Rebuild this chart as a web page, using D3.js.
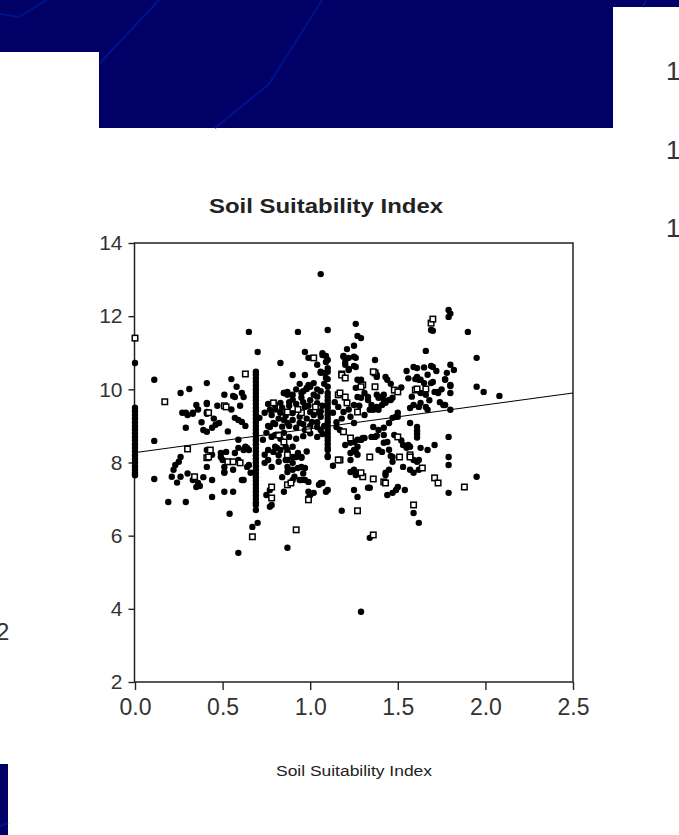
<!DOCTYPE html>
<html>
<head>
<meta charset="utf-8">
<script src="https://cdn.jsdelivr.net/npm/d3@7"></script>
<style>
  body { margin: 0; background: #fff; }
  svg { display: block; }
</style>
</head>
<body>
<div class="container"></div>
<script>
// ticks
const xTicks = [0, 0.5, 1, 1.5, 2, 2.5];
const yTicks = [2, 4, 6, 8, 10, 12, 14];

// fitted line, read at both ends of the x range
const fitX = [0, 2.5];
const fitY = [8.27, 9.9];

// filled markers [soil index, value]
const filledPts = [
  [0.11,10.26],[0.26,9.9],[0.31,10.01],[0.41,10.17],[0.65,11.57],[0.70,11.02],[0.93,11.57],[0.83,10.72],[0.55,10.28],[0.58,10.07],
  [0.97,11.02],[0.99,10.86],[0.90,10.39],[0.97,10.39],[0.51,9.85],[0.57,9.79],[0.62,9.79],[0.41,9.6],[0.35,9.57],[0.29,9.36],[0.33,9.33],[0.41,9.33],
  [1.06,13.15],[1.10,11.62],[1.26,11.79],[1.27,11.46],[1.29,11.4],[1.25,11.19],[1.21,11.1],[1.26,10.86],[1.25,10.64],[1.19,10.91],[1.20,10.75],[1.22,10.56],
  [1.04,10.67],[1.07,10.99],[1.09,10.91],[1.10,10.8],[1.06,10.45],[1.08,10.45],[1.10,10.58],[1.10,10.28],
  [1.37,10.8],[1.38,10.34],[1.43,10.34],[1.44,10.26],[1.27,10.26],[1.29,10.26],[1.46,10.15],[1.55,10.5],[1.59,10.61],[1.61,10.58],[1.60,10.28],[1.63,10.26],
  [1.66,11.05],[1.69,11.62],[1.70,11.6],[1.69,10.64],[1.70,10.61],[1.70,10.2],
  [1.79,12.17],[1.80,12.07],[1.79,11.98],[1.80,10.67],[1.82,10.53],[1.77,10.26],[1.80,10.09],[1.90,11.57],[1.95,10.86],[1.95,10.07],[1.99,9.93],[2.08,9.82],
  [0.56,9.82],[0.61,9.9],[0.85,9.9],[0.87,9.93],[0.94,10.15],[0.98,10.01],[1.0,10.07],
  [0.11,8.59],[0.27,9.36],[0.30,9.3],[0.33,9.36],[0.29,8.95],[0.41,9.63],[0.41,9.38],[0.39,8.89],[0.41,8.84],[0.44,8.95],[0.46,9.03],[0.48,9.08],
  [0.57,9.22],[0.59,9.16],[0.61,9.11],[0.59,8.62],[0.59,8.4],[0.64,8.4],[0.41,8.34],[0.44,8.21],[0.49,8.15],[0.50,8.07],[0.64,7.88],[0.63,8.43],[0.65,8.34],
  [0.26,8.15],[0.25,8.02],[0.23,7.93],[0.22,7.8],[0.21,7.61],[0.26,7.61],[0.11,7.55],[0.19,6.92],[0.29,6.92],[0.33,7.52],[0.36,7.44],[0.37,7.36],[0.35,7.33],
  [0.44,7.52],[0.44,7.06],[0.51,7.2],[0.56,7.2],[0.51,7.74],[0.56,7.8],[0.61,7.52],[0.54,6.6],[0.59,5.53],[0.67,6.24],[0.70,6.35],
  [0.75,7.11],[0.77,7.25],[0.78,6.84],[0.77,6.79],[0.74,8.21],[0.76,8.07],[0.79,8.29],[0.81,8.4],[0.73,8.62],[0.75,8.81],[0.77,8.97],[0.79,9.08],
  [0.71,9.22],[0.74,9.36],[0.77,9.44],[0.80,9.57],[0.83,9.63],[0.85,9.9],[0.87,9.85],[0.83,9.36],[0.85,9.16],[0.87,9.08],[0.80,8.75],[0.85,8.81],
  [0.86,8.43],[0.87,8.34],[0.90,8.43],[0.90,8.15],[0.93,8.26],[0.95,8.15],[0.86,8.07],[0.87,7.88],[0.87,7.74],[0.90,7.8],[0.93,7.85],[0.95,7.88],[0.97,7.85],
  [0.85,7.2],[0.90,7.52],[0.94,7.52],[0.97,7.52],[0.99,7.2],[1.0,7.11],[1.02,7.17],[0.99,7.03],[1.05,7.39],[1.07,7.44],[1.10,7.25],[0.87,5.67],[1.13,7.91],[1.10,8.15],
  [1.13,9.36],[1.16,9.52],[1.19,9.38],[1.15,8.97],[1.17,8.89],[1.25,8.56],[1.27,8.62],[1.23,8.26],[1.25,8.34],[1.27,8.43],[1.29,8.62],[1.30,8.67],
  [1.25,7.8],[1.27,7.72],[1.29,7.66],[1.18,6.68],[1.27,7.06],[1.25,7.25],[1.29,3.92],[1.33,7.31],[1.34,5.94],[1.39,8.34],[1.41,8.29],[1.37,8.7],[1.42,8.54],[1.44,8.56],
  [1.36,8.97],[1.39,8.89],[1.42,8.95],[1.45,9.08],[1.47,9.22],[1.43,7.66],[1.45,7.8],[1.44,7.11],[1.47,7.17],[1.49,7.25],[1.50,7.33],[1.54,7.25],
  [1.47,8.15],[1.47,8.02],[1.53,7.88],[1.53,8.48],[1.55,8.4],[1.57,8.43],[1.59,8.07],[1.61,8.02],[1.57,7.8],[1.59,7.72],[1.62,7.8],
  [1.61,8.97],[1.61,8.87],[1.61,8.78],[1.61,8.68],[1.59,6.62],[1.62,6.35],[1.63,8.4],[1.67,8.34],[1.71,8.48],[1.79,8.7],[1.79,8.15],[1.79,7.93],[1.79,7.17],[1.95,7.61],
  [1.57,9.49],[1.59,9.57],[1.63,9.63],[1.66,9.52],[1.67,9.44],[1.65,10.17],[1.73,9.9],[1.73,9.93],[1.77,9.57],[1.80,10.12],[1.80,9.9],[1.80,9.44],[1.57,9.08],
  [1.50,9.25],[1.50,9.36],[1.46,9.71],[1.47,9.77],[1.41,9.57],[1.42,9.71],[1.36,9.44],[1.38,9.52],[1.31,9.9],[1.33,9.79],[1.38,9.85],[1.40,9.79],[1.25,9.57],
  [1.23,9.25],[1.25,9.08],[0.98,10.04],[0.99,10.12],[1.02,10.17],[0.95,9.77],[0.97,9.52],[1.0,9.38],[1.05,9.36],[1.06,9.25],[1.01,9.11],[1.04,8.97],[1.06,8.89],
  [0.94,9.08],[0.97,8.89],[0.90,9.16],[0.83,9.38],[0.90,9.85],
  [1.19,10.89],[1.22,10.86],[1.25,10.89],[1.20,10.67],[1.22,10.53],[1.26,10.61],[1.38,10.39],[1.61,10.34],[1.62,10.26],[1.69,10.17],[1.77,10.28],[1.63,9.9],
  [1.66,9.85],[1.71,9.93],[1.07,10.94],[1.09,10.75],[1.06,10.48],[1.10,10.48],[1.09,10.31],[1.10,10.07],[1.26,10.04],[1.29,10.2],[1.27,9.79],[1.29,9.77],
  [1.33,9.71],[1.35,9.57],[1.39,9.77],[1.42,9.85],[1.43,9.63],[1.45,9.71],[1.49,9.25],[1.39,9.44],[1.34,9.44],[1.62,9.52],[1.76,9.57],
  [0.41,7.88],[0.51,7.88],[0.51,7.72],[0.49,8.26],[0.52,8.29],[0.57,8.26],[0.59,8.07],[0.62,8.34],[0.63,8.4],[0.62,7.52],[0.65,7.93],[0.66,7.72],
  [0.91,7.61],[0.95,7.52],[0.99,7.47],[0.76,8.34],[0.80,8.43],[0.83,8.34],[0.74,7.99],[0.78,7.88],[0.82,8.02],[0.87,8.07],[0.90,7.99],[0.92,8.15],[0.95,8.13],
  [1.62,8.07],[1.46,8.18],[1.43,7.72],[1.34,7.31],[1.23,7.74],[1.26,7.66],[1.23,8.07],[1.10,8.18],[1.06,7.44],[1.09,7.2],[1.23,8.54],[1.29,8.62],[1.31,8.67],
  [1.35,8.7],[1.38,8.73],[1.20,8.48],[1.26,8.29],[1.27,8.21],[1.42,8.75],[1.56,8.48],
  [0.76,9.6],[0.8,9.45],[0.84,9.5],[0.88,9.55],[0.92,9.6],[0.96,9.65],[1.0,9.7],[1.04,9.62],[1.07,9.55],[0.78,9.3],[0.82,9.2],[0.86,9.28],[0.9,9.35],
  [0.94,9.25],[0.98,9.2],[1.02,9.3],[1.06,9.4],[0.76,9.0],[0.8,9.05],[0.84,8.98],[0.88,9.0],[0.92,8.95],[0.96,9.05],[1.0,9.0],[1.04,9.1],[1.08,9.0],
  [0.78,8.7],[0.83,8.65],[0.88,8.7],[0.92,8.65],[0.96,8.72],[1.0,8.8],[1.04,8.7],[1.07,8.78],[0.9,9.72],[0.95,9.9],[1.02,9.85],[1.06,9.95],[1.04,9.8],
  [0.36,9.45],[0.45,9.2],[0.38,9.1],[0.47,9.55],[0.55,9.45],[0.63,9.0],[0.60,9.55],[0.53,8.85],
  [0.92,10.0],[0.96,9.95],[1.04,10.0],[1.08,10.15],[0.88,9.65],[0.99,9.55],
  [1.14,9.65],[1.18,9.2],[1.22,9.45],[1.28,9.55],[1.31,9.3],[1.15,9.1],
  [1.52,10.05],[1.56,10.3],[1.67,10.4],[1.72,10.5],[1.75,10.0],[1.58,9.8],[1.68,9.7],[1.74,9.65],[1.65,10.6],[1.78,10.45],
  [1.45,8.35],[1.52,8.6],[1.48,8.75],[0.84,7.6],[0.96,7.7],[0.82,8.2],[0.98,8.3],[0.24,7.45],[0.3,7.7],[0.39,7.6]
];

// open square markers
const openPts = [
  [0,11.4],[1.02,10.86],[0.51,9.55],[0.63,10.42],[1.18,10.42],[1.37,10.45],[1.37,10.07],[1.30,10.12],[1.48,9.98],[1.50,9.93],[1.69,11.81],[1.70,11.92],
  [1.66,10.01],[0.17,9.66],[0.30,8.37],[0.42,9.36],[0.52,9.52],[0.41,8.13],[0.53,8.02],[0.56,8.02],[0.60,7.99],[0.34,7.61],[0.67,5.97],[0.78,7.33],
  [0.78,7.03],[0.79,9.63],[0.82,8.75],[0.85,8.56],[0.87,7.39],[0.92,6.16],[1.17,8.07],[1.19,8.84],[1.23,8.67],[1.30,7.61],[1.27,6.68],[1.36,7.55],
  [1.34,8.15],[1.36,6.02],[1.42,7.47],[1.50,8.7],[1.51,8.15],[1.57,8.21],[1.64,7.85],[1.59,6.84],[1.71,7.58],[1.73,7.44],[1.88,7.33],[1.60,9.98],
  [1.29,10.07],[1.27,9.38],[1.16,9.85],[1.21,9.63],[1.03,9.52],[0.95,9.36],[0.87,9.38],[1.36,10.48],[1.18,10.39],[1.20,10.31],[1.17,9.9],[1.20,9.79],
  [1.61,10.01],[0.42,8.15],[0.43,8.34],[0.89,7.44],[0.99,6.98],[0.87,8.21],[1.57,8.15],[1.43,7.44],[1.29,7.72],[1.16,8.07],[0.93,9.45],[0.99,8.9]
];

// stacked columns of points at repeated index values
const stackX = [0, 0.69, 1.1];
const stackY = [
  [10.72, 9.5, 9.4, 9.3, 9.2, 9.1, 9.0, 8.9, 8.8, 8.7, 8.6, 8.5, 8.4, 8.3, 8.2, 8.1, 8.0, 7.9, 7.8, 7.72, 7.65],
  [10.48, 10.4, 10.3, 10.2, 10.1, 10.0, 9.9, 9.8, 9.7, 9.6, 9.5, 9.4, 9.3, 9.2, 9.1, 9.0, 8.9, 8.8, 8.7, 8.6, 8.5, 8.4, 8.3, 8.2,
   8.1, 8.0, 7.9, 7.8, 7.7, 7.6, 7.5, 7.4, 7.3, 7.2, 7.1, 7.0, 6.9, 6.84, 6.7],
  [9.9, 9.8, 9.7, 9.6, 9.5, 9.4, 9.3, 9.2, 9.1, 9.0, 8.9, 8.8, 8.7, 8.6, 8.5, 8.4, 8.34]
];

const width = 679;
const height = 835;
const navy = '#000066';
const navyLine = '#00118c';
const font = 'Liberation Sans, Arial, sans-serif';

const svg = d3
  .select('.container')
  .append('svg')
  .attr('width', width)
  .attr('height', height);

svg.append('rect').attr('width', width).attr('height', height).attr('fill', '#fff');

// slide background pieces
const deco = svg.append('g').attr('class', 'deco');
deco.append('rect').attr('x', 0).attr('y', 0).attr('width', width).attr('height', 7).attr('fill', navy);
deco.append('rect').attr('x', 0).attr('y', 0).attr('width', 613).attr('height', 52).attr('fill', navy);
deco.append('rect').attr('x', 99).attr('y', 0).attr('width', 514).attr('height', 128).attr('fill', navy);
deco.append('rect').attr('x', 0).attr('y', 764).attr('width', 8).attr('height', 71).attr('fill', navy);

const decoLines = [
  [[0, 14], [19, 17], [47, 0]],
  [[100, 63], [159, 0]],
  [[215, 128], [269, 84], [322, 0]],
  [[643, 7], [646, 0]],
  [[0, 826], [8, 823]]
];
deco.selectAll('path')
  .data(decoLines)
  .enter()
  .append('path')
  .attr('d', d3.line())
  .attr('fill', 'none')
  .attr('stroke', navyLine)
  .attr('stroke-width', 2);

// stray slide text at the edges
const edgeText = svg.append('g')
  .attr('font-family', font)
  .attr('fill', '#333');
[80, 159, 237].forEach(yy => {
  edgeText.append('text').attr('x', 666).attr('y', yy).attr('font-size', 26).text('1');
});
edgeText.append('text').attr('x', -4).attr('y', 640).attr('font-size', 24).text('2');

// chart
const plot = { left: 135, right: 573, top: 243, bottom: 682 };

const x = d3.scaleLinear().domain([0, 2.5]).range([plot.left, plot.right]);
const y = d3.scaleLinear().domain([2, 14]).range([plot.bottom, plot.top]);

const chart = svg.append('g').attr('class', 'chart');

chart.append('text')
  .attr('x', 326)
  .attr('y', 213)
  .attr('text-anchor', 'middle')
  .attr('font-family', font)
  .attr('font-weight', 'bold')
  .attr('font-size', 20)
  .attr('fill', '#222')
  .attr('textLength', 234)
  .attr('lengthAdjust', 'spacingAndGlyphs')
  .text('Soil Suitability Index');

// y axis
const yAxis = chart.append('g')
  .attr('transform', `translate(${plot.left - 0.5}, 0)`)
  .call(d3.axisLeft(y).tickValues(yTicks).tickSize(6).tickPadding(6).tickFormat(d3.format('d')));

// x axis
const xAxis = chart.append('g')
  .attr('transform', `translate(0, ${plot.bottom})`)
  .call(d3.axisBottom(x).tickValues(xTicks).tickSize(8).tickPadding(9).tickFormat(d3.format('.1f')));

[yAxis, xAxis].forEach(a => {
  a.select('.domain').remove();
  a.selectAll('line').attr('stroke', '#222').attr('stroke-width', 1.4);
  a.selectAll('text').attr('fill', '#333').attr('font-family', font);
});
yAxis.selectAll('text').attr('font-size', 21);
xAxis.selectAll('text').attr('font-size', 23);

// frame
chart.append('rect')
  .attr('x', plot.left - 0.5)
  .attr('y', plot.top)
  .attr('width', plot.right - plot.left + 0.5)
  .attr('height', plot.bottom - plot.top)
  .attr('fill', 'none')
  .attr('stroke', '#222')
  .attr('stroke-width', 1.5);

// points
const stacked = [];
stackX.forEach((sx, i) => stackY[i].forEach(v => stacked.push([sx, v])));

chart.append('g')
  .selectAll('circle')
  .data(filledPts.concat(stacked))
  .enter()
  .append('circle')
  .attr('cx', d => x(d[0]))
  .attr('cy', d => y(d[1]))
  .attr('r', 3.2)
  .attr('fill', '#000');

chart.append('g')
  .selectAll('rect')
  .data(openPts)
  .enter()
  .append('rect')
  .attr('x', d => x(d[0]) - 2.75)
  .attr('y', d => y(d[1]) - 2.75)
  .attr('width', 5.5)
  .attr('height', 5.5)
  .attr('fill', '#fff')
  .attr('stroke', '#000')
  .attr('stroke-width', 1.5);

// fitted line
chart.append('path')
  .datum(fitX.map((v, i) => [v, fitY[i]]))
  .attr('d', d3.line().x(d => x(d[0])).y(d => y(d[1])))
  .attr('fill', 'none')
  .attr('stroke', '#000')
  .attr('stroke-width', 1);

// bottom caption
chart.append('text')
  .attr('x', 354)
  .attr('y', 776)
  .attr('text-anchor', 'middle')
  .attr('font-family', font)
  .attr('font-size', 14)
  .attr('fill', '#222')
  .attr('textLength', 156)
  .attr('lengthAdjust', 'spacingAndGlyphs')
  .text('Soil Suitability Index');
</script>
</body>
</html>
